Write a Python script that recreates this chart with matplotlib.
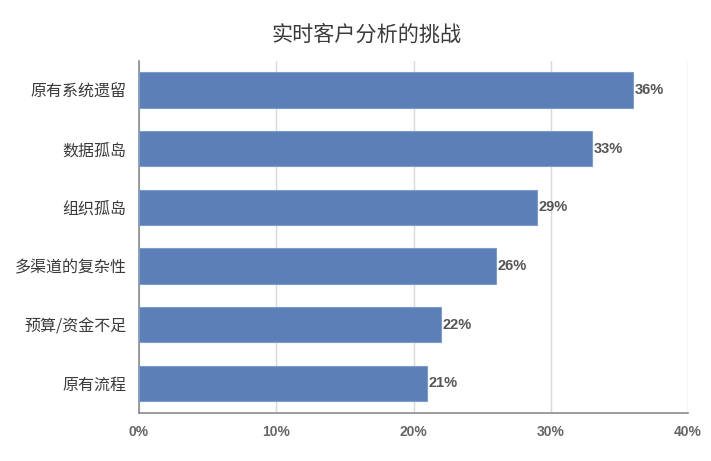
import matplotlib
matplotlib.use("Agg")
import matplotlib.pyplot as plt

plt.rcParams['font.family'] = ['Noto Sans CJK SC', 'DejaVu Sans']

title = "实时客户分析的挑战"
categories = ["原有系统遗留", "数据孤岛", "组织孤岛", "多渠道的复杂性", "预算/资金不足", "原有流程"]
values = [36, 33, 29, 26, 22, 21]
xticks = [0, 10, 20, 30, 40]
xtick_labels = ["0%", "10%", "20%", "30%", "40%"]

fig = plt.figure(figsize=(7.11, 4.61), dpi=100)
ax = fig.add_axes([0.1955, 0.1046, 0.7722, 0.764])

ypos = list(range(len(categories)))
ax.barh(ypos, values, height=0.6, color='#5b7fb6', edgecolor='#7d9ccb', linewidth=0.8, zorder=3)
ax.set_ylim(len(categories) - 0.5, -0.5)
ax.set_xlim(0, 40)
ax.set_yticks(ypos)
ax.set_yticklabels(categories, fontsize=11.5, color='#3a3a3a')
ax.set_xticks(xticks)
ax.set_xticklabels(xtick_labels, fontsize=10, color='#666666', fontweight='bold',
                   family=['Liberation Sans', 'DejaVu Sans'])
ax.tick_params(axis='both', length=0)
ax.tick_params(axis='y', pad=9)
ax.tick_params(axis='x', pad=9)
ax.grid(axis='x', color='#d9d9d9', linewidth=1.0, zorder=0)
for s in ['top', 'right']:
    ax.spines[s].set_visible(False)
for s in ['left', 'bottom']:
    ax.spines[s].set_color('#8c8c8c')
    ax.spines[s].set_linewidth(1.2)

for y, v in zip(ypos, values):
    ax.text(v + 0.1, y, f"{v}%", va='center', ha='left', fontsize=10.5, color='#555555',
            fontweight='bold', family=['Liberation Sans', 'DejaVu Sans'], zorder=4)

fig.text(0.515, 0.924, title, ha='center', va='center', fontsize=15.2, color='#3a3a3a')

fig.savefig("out.png", dpi=100)
